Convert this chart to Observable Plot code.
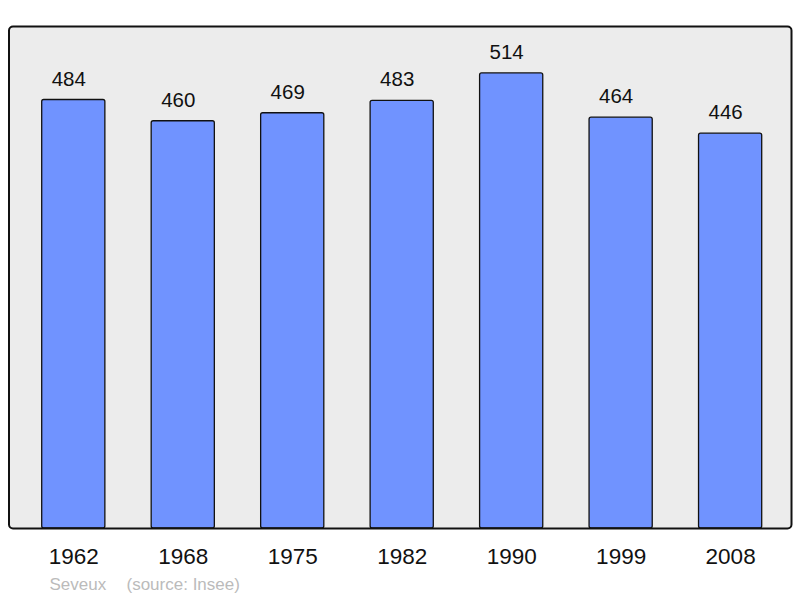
<!DOCTYPE html>
<html>
<head>
<meta charset="utf-8">
<script src="https://cdn.jsdelivr.net/npm/d3@7"></script>
<script src="https://cdn.jsdelivr.net/npm/@observablehq/plot@0.6"></script>
<style>
  html, body { margin: 0; padding: 0; background: #ffffff; }
  svg { display: block; }
</style>
</head>
<body>
<div id="chart"></div>
<script>
const years = ["1962", "1968", "1975", "1982", "1990", "1999", "2008"];
const population = [484, 460, 469, 483, 514, 464, 446];
const captionParts = ["Seveux", "(source: Insee)"];

const data = years.map((year, i) => ({year, population: population[i]}));

const chart = Plot.plot({
  width: 800,
  height: 598,
  marginLeft: 8.5,
  marginRight: 9,
  marginTop: 26,
  marginBottom: 70,
  style: {fontFamily: "'Liberation Sans', Arial, sans-serif", background: "white"},
  x: {domain: years, range: [41.7, 761.7], paddingInner: 0.423, paddingOuter: 0, round: false, axis: null},
  y: {domain: [0, 567], axis: null},
  marks: [
    Plot.frame({fill: "#ececec", stroke: "none", rx: 4}),
    Plot.barY(data, {x: "year", y: "population", fill: "#7093ff", stroke: "#111", strokeWidth: 1.3, rx: 2}),
    Plot.text(data, {x: "year", y: "population", text: d => String(d.population), dy: -21, dx: -5, fontSize: 20.5, fill: "#111"}),
    Plot.frame({stroke: "#111", strokeWidth: 2, rx: 4, fill: "none"}),
    Plot.axisX({tickSize: 0, tickPadding: 20, fontSize: 22.5, color: "#111", label: null}),
    Plot.text([captionParts[0]], {frameAnchor: "bottom-left", text: d => d, dx: 40.5, dy: 61, textAnchor: "start", fontSize: 17, fill: "#bbbbbb"}),
    Plot.text([captionParts[1]], {frameAnchor: "bottom-left", text: d => d, dx: 117.5, dy: 61, textAnchor: "start", fontSize: 17, fill: "#bbbbbb"})
  ]
});
document.getElementById("chart").appendChild(chart);
</script>
</body>
</html>
